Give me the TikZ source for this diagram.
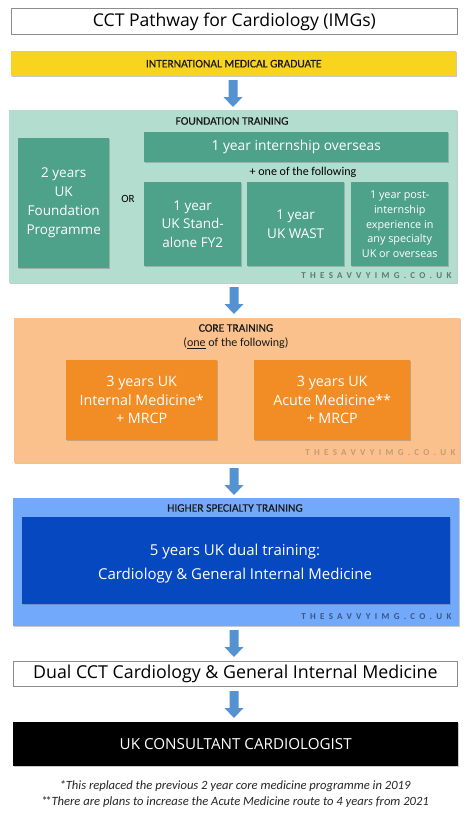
\documentclass[tikz,border=0pt]{standalone}
\usepackage{fontspec}
\setmainfont{Carlito}
\newfontfamily\segoe{Open Sans}
\newfontfamily\headfont[FakeBold=0.5]{Carlito}
\newfontfamily\wmfont[LetterSpace=48]{Carlito}
\usetikzlibrary{shadows}
\definecolor{arrowblue}{HTML}{5592D2}
\definecolor{yellowbar}{HTML}{F9D41E}
\definecolor{teallight}{HTML}{B2DDCF}
\definecolor{tealbox}{HTML}{4FA28A}
\definecolor{orangelight}{HTML}{FAC18C}
\definecolor{orangebox}{HTML}{F28C25}
\definecolor{bluelight}{HTML}{72A9FA}
\definecolor{bluedark}{HTML}{0648C0}
\definecolor{wmteal}{HTML}{5C7A72}
\definecolor{wmorange}{HTML}{C49B74}
\definecolor{wmblue}{HTML}{3A5780}
\tikzset{
  px/.style={x=1pt,y=-1pt},
  shad/.style={drop shadow={shadow xshift=1.2pt,shadow yshift=-1.2pt,opacity=0.35,fill=black!60}},
  panel/.style={shad, draw=none, inner sep=0pt},
  inbox/.style={shad, draw=none, text=white, align=center, inner sep=0pt},
  headtxt/.style={font=\headfont\fontsize{11.5}{14}\selectfont, text=black!90, align=center},
  wm/.style={font=\wmfont\bfseries\fontsize{9}{10}\selectfont, anchor=east},
}
\newcommand{\dnarrow}[2]{% x center, y top
  \fill[arrowblue] (#1-4.5,#2) -- (#1+4.5,#2) -- (#1+4.5,#2+17) -- (#1+9.5,#2+17) -- (#1,#2+27) -- (#1-9.5,#2+17) -- (#1-4.5,#2+17) -- cycle;}
\begin{document}
\begin{tikzpicture}[px]
\useasboundingbox (0,0) rectangle (474,815);
\fill[white] (0,0) rectangle (474,815);

% title
\node[draw=black!45, line width=0.8pt, fill=white, minimum width=446pt, minimum height=26pt, anchor=north west, inner sep=0pt,
  font=\segoe\fontsize{17.6}{20}\selectfont] (title) at (11,8) {CCT Pathway for Cardiology (IMGs)};

% IMG bar
\node[panel, fill=yellowbar, minimum width=445pt, minimum height=25pt, anchor=north west, headtxt] (img) at (11,51) {INTERNATIONAL MEDICAL GRADUATE};

\dnarrow{233}{80}

% foundation
\node[panel, fill=teallight, minimum width=448pt, minimum height=173pt, anchor=north west] (found) at (9,110) {};
\node[headtxt] (foundt) at (232,121) {FOUNDATION TRAINING};
\node[inbox, fill=tealbox, minimum width=91pt, minimum height=130pt, anchor=north west,
  font=\segoe\fontsize{13.5}{19}\selectfont] (fp) at (18,138) {2 years\\UK\\Foundation\\Programme};
\node[font=\fontsize{11}{12}\selectfont] (or) at (128,199) {OR};
\node[inbox, fill=tealbox, minimum width=304pt, minimum height=30pt, anchor=north west,
  font=\segoe\fontsize{13.8}{16}\selectfont] (intern) at (144,132) {1 year internship overseas};
\node[font=\fontsize{12}{13}\selectfont] (plus) at (303,172) {+ one of the following};
\node[inbox, fill=tealbox, minimum width=97pt, minimum height=84pt, anchor=north west,
  font=\segoe\fontsize{13.5}{18.5}\selectfont] (fy2) at (144,182) {1 year\\UK Stand-\\alone FY2};
\node[inbox, fill=tealbox, minimum width=97pt, minimum height=84pt, anchor=north west,
  font=\segoe\fontsize{13.5}{18.5}\selectfont] (wast) at (247,182) {1 year\\UK WAST};
\node[inbox, fill=tealbox, minimum width=97pt, minimum height=84pt, anchor=north west,
  font=\segoe\fontsize{10.8}{14.8}\selectfont] (post) at (351,182) {1 year post-\\internship\\experience in\\any specialty\\UK or overseas};
\node[wm, text=wmteal] (wm1) at (455,276) {THESAVVYIMG.CO.UK};

\dnarrow{234}{287}

% core
\node[panel, fill=orangelight, minimum width=446pt, minimum height=145pt, anchor=north west] (core) at (14,318) {};
\node[headtxt] (coret) at (236,328) {CORE TRAINING};
\node[font=\fontsize{12}{14}\selectfont, text=black!90] (coresub) at (236,343) {(\underline{one} of the following)};
\node[inbox, fill=orangebox, minimum width=151pt, minimum height=80pt, anchor=north west,
  font=\segoe\fontsize{14.3}{18.5}\selectfont] (im) at (66,360) {3 years UK\\Internal Medicine*\\+ MRCP};
\node[inbox, fill=orangebox, minimum width=156pt, minimum height=80pt, anchor=north west,
  font=\segoe\fontsize{14.3}{18.5}\selectfont] (am) at (254,360) {3 years UK\\Acute Medicine**\\+ MRCP};
\node[wm, text=wmorange] (wm2) at (459,453) {THESAVVYIMG.CO.UK};

\dnarrow{234}{468}

% higher
\node[panel, fill=bluelight, minimum width=446pt, minimum height=128pt, anchor=north west] (hst) at (13,498) {};
\node[headtxt] (hstt) at (235,508) {HIGHER SPECIALTY TRAINING};
\node[inbox, fill=bluedark, minimum width=428pt, minimum height=87pt, anchor=north west] (dual) at (22,517) {};
\node[text=white, align=center, font=\segoe\fontsize{15}{24}\selectfont] (dualt) at (235,564)
  {5 years UK dual training:\\Cardiology \& General Internal Medicine};
\node[wm, text=wmblue] (wm3) at (455,617) {THESAVVYIMG.CO.UK};

\dnarrow{234}{630}

% CCT
\node[draw=black!45, line width=0.8pt, fill=white, minimum width=444pt, minimum height=25pt, anchor=north west, inner sep=0pt,
  font=\segoe\fontsize{17.8}{20}\selectfont] (cct) at (13,661) {Dual CCT Cardiology \& General Internal Medicine};

\dnarrow{234}{691}

% consultant
\node[panel, fill=black, minimum width=445pt, minimum height=44pt, anchor=north west, text=white,
  font=\segoe\fontsize{15.2}{18}\selectfont] (cons) at (13,722) {UK CONSULTANT CARDIOLOGIST};

% footnotes
\node[font=\itshape\fontsize{12.6}{16}\selectfont, align=center, text=black!85] (notes) at (235,794)
  {*This replaced the previous 2 year core medicine programme in 2019\\{}*\kern-2.2pt*There are plans to increase the Acute Medicine route to 4 years from 2021};
\end{tikzpicture}
\end{document}
